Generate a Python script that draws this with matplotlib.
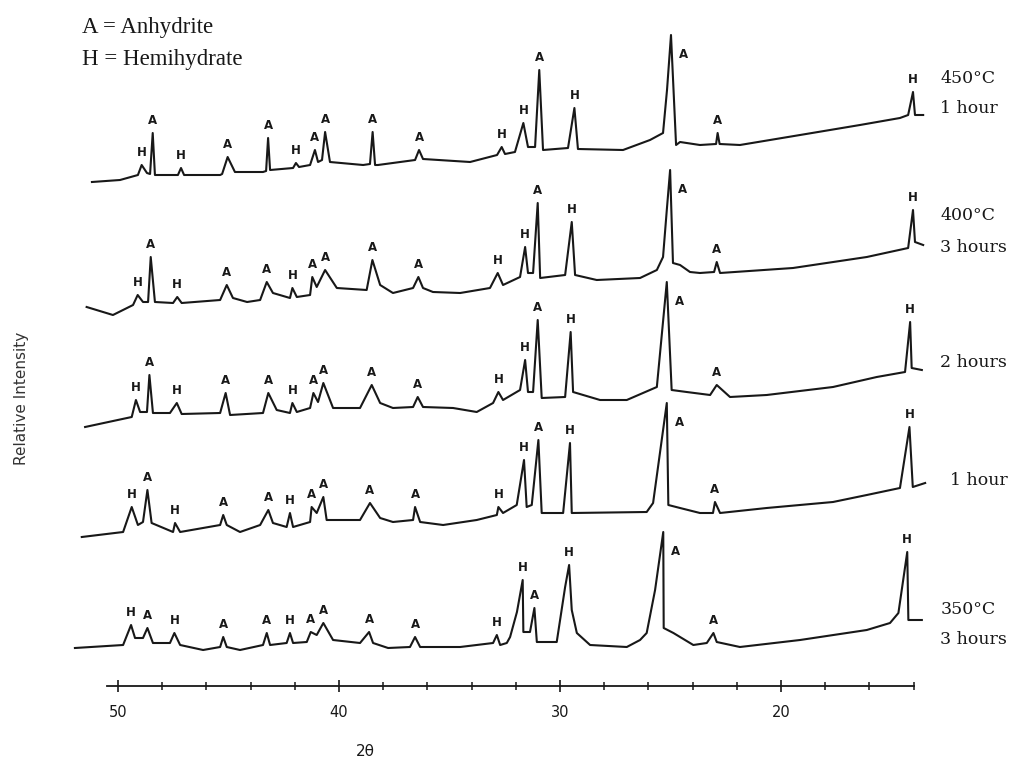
import numpy as np
import matplotlib.pyplot as plt

# (2theta, relative intensity) vertices of each diffraction trace
scan_450_1h = [(51.18, 3), (49.91, 5), (49.10, 10), (48.93, 20), (48.69, 12), (48.55, 11), (48.43, 52),
               (48.33, 10), (47.29, 10), (47.15, 17), (47.01, 10), (45.38, 10), (45.29, 11), (45.04, 28),
               (44.71, 13), (44.48, 13), (43.44, 13), (43.30, 14), (43.21, 47), (43.12, 15), (42.08, 17),
               (41.95, 22), (41.81, 18), (41.31, 20), (41.09, 35), (40.95, 23), (40.77, 25), (40.63, 53),
               (40.41, 23), (38.91, 20), (38.60, 21), (38.48, 53), (38.37, 20), (38.24, 20), (36.56, 25),
               (36.38, 35), (36.20, 26), (34.07, 23), (32.85, 30), (32.64, 38), (32.49, 31), (32.04, 33),
               (31.66, 62), (31.45, 38), (31.13, 38), (30.94, 115), (30.77, 35), (29.64, 37), (29.35, 77),
               (29.19, 36), (27.15, 35), (25.93, 45), (25.34, 52), (25.16, 95), (24.98, 150), (24.75, 40),
               (24.57, 43), (23.67, 40), (22.94, 41), (22.87, 52), (22.78, 41), (21.86, 40), (19.14, 50),
               (16.43, 60), (14.62, 67), (14.25, 70), (14.03, 93), (13.94, 70), (13.57, 70)]

scan_400_3h = [(51.42, 3), (50.23, -5), (49.32, 5), (49.11, 15), (48.87, 8), (48.64, 8), (48.52, 53),
               (48.33, 8), (47.51, 7), (47.32, 13), (47.12, 7), (45.38, 10), (45.08, 25), (44.80, 12),
               (44.16, 8), (43.57, 10), (43.27, 28), (42.99, 17), (42.22, 12), (42.11, 22), (41.91, 13),
               (41.31, 15), (41.21, 33), (41.01, 23), (40.63, 40), (40.10, 22), (38.75, 20), (38.49, 50),
               (38.14, 25), (37.56, 17), (36.65, 22), (36.41, 33), (36.20, 22), (35.75, 18), (34.52, 17),
               (33.17, 22), (32.82, 37), (32.58, 25), (31.81, 33), (31.58, 63), (31.45, 37), (31.22, 37),
               (31.01, 107), (30.90, 32), (29.77, 35), (29.47, 88), (29.32, 35), (28.34, 30), (26.38, 32),
               (25.62, 40), (25.34, 53), (25.17, 100), (25.02, 140), (24.89, 47), (24.57, 45), (24.12, 38),
               (23.67, 37), (23.03, 38), (22.91, 48), (22.76, 37), (19.46, 42), (16.12, 53), (14.25, 62),
               (14.03, 100), (13.94, 68), (13.57, 65)]

scan_400_2h = [(51.49, -7), (49.38, 3), (49.19, 20), (49.00, 8), (48.69, 8), (48.58, 45), (48.42, 7),
               (47.65, 7), (47.34, 17), (47.12, 6), (45.38, 7), (45.13, 27), (44.93, 5), (43.44, 7),
               (43.20, 27), (42.82, 10), (42.22, 7), (42.11, 17), (41.91, 8), (41.31, 12), (41.16, 27),
               (40.95, 18), (40.71, 37), (40.27, 12), (39.05, 12), (38.52, 35), (38.14, 17), (37.56, 12),
               (36.65, 13), (36.44, 23), (36.20, 13), (34.84, 12), (33.77, 8), (33.03, 17), (32.79, 28),
               (32.58, 20), (31.81, 30), (31.58, 60), (31.45, 28), (31.22, 28), (31.01, 100), (30.83, 22),
               (29.77, 23), (29.52, 88), (29.41, 28), (28.19, 20), (26.98, 20), (25.62, 33), (25.17, 138),
               (24.95, 30), (24.27, 28), (23.21, 25), (22.91, 35), (22.31, 23), (20.65, 25), (17.65, 33),
               (15.67, 43), (14.39, 48), (14.16, 98), (14.09, 52), (13.63, 50)]

scan_400_1h = [(51.64, -2), (49.77, 3), (49.38, 28), (49.10, 10), (48.87, 13), (48.67, 45), (48.48, 12),
               (47.51, 3), (47.42, 12), (47.19, 3), (45.38, 10), (45.24, 20), (45.08, 10), (44.48, 3),
               (43.57, 10), (43.20, 25), (42.99, 12), (42.37, 8), (42.22, 22), (42.08, 8), (41.31, 13),
               (41.24, 28), (41.01, 22), (40.71, 38), (40.56, 15), (39.05, 15), (38.60, 32), (38.14, 17),
               (37.56, 13), (36.65, 15), (36.56, 28), (36.33, 13), (35.29, 10), (33.77, 15), (32.86, 20),
               (32.79, 28), (32.58, 22), (31.96, 30), (31.63, 75), (31.51, 28), (31.28, 30), (30.98, 95),
               (30.83, 22), (29.86, 22), (29.55, 92), (29.47, 22), (26.08, 23), (25.79, 32), (25.17, 132),
               (25.10, 30), (24.57, 27), (23.67, 22), (23.08, 22), (22.99, 33), (22.76, 22), (20.65, 27),
               (17.65, 33), (16.12, 40), (14.62, 47), (14.19, 108), (14.04, 48), (13.48, 52)]

scan_350_3h = [(51.95, 2), (49.77, 5), (49.41, 25), (49.23, 12), (48.87, 12), (48.67, 22), (48.42, 7),
               (47.65, 7), (47.45, 17), (47.19, 5), (46.15, 0), (45.38, 3), (45.24, 13), (45.08, 3),
               (44.48, 0), (43.44, 5), (43.27, 17), (43.12, 5), (42.37, 7), (42.22, 17), (42.08, 7),
               (41.46, 8), (41.28, 18), (41.01, 15), (40.71, 27), (40.27, 10), (39.05, 7), (38.64, 18),
               (38.46, 7), (37.78, 2), (36.79, 3), (36.56, 13), (36.33, 3), (34.52, 3), (33.03, 7),
               (32.86, 15), (32.71, 5), (32.41, 7), (32.26, 13), (31.95, 38), (31.69, 70), (31.66, 18),
               (31.36, 18), (31.16, 42), (31.05, 8), (30.15, 8), (29.77, 63), (29.59, 85), (29.47, 40),
               (29.24, 17), (28.64, 5), (26.98, 3), (26.38, 10), (26.08, 17), (25.70, 60), (25.33, 118),
               (25.31, 22), (24.87, 17), (23.97, 5), (23.36, 7), (23.06, 17), (22.91, 8), (21.86, 3),
               (19.14, 10), (16.12, 20), (15.07, 27), (14.69, 37), (14.29, 98), (14.24, 30), (13.63, 30)]

# phase assignment of the marked reflections (2theta, phase letter)
peaks_450_1h = [(48.93, 'H'), (48.43, 'A'), (47.15, 'H'), (45.04, 'A'), (43.21, 'A'), (41.95, 'H'),
                (41.09, 'A'), (40.63, 'A'), (38.48, 'A'), (36.38, 'A'), (32.64, 'H'), (31.66, 'H'),
                (30.94, 'A'), (29.35, 'H'), (24.98, 'A'), (22.87, 'A'), (14.03, 'H')]
peaks_400_3h = [(49.11, 'H'), (48.52, 'A'), (47.32, 'H'), (45.08, 'A'), (43.27, 'A'), (42.11, 'H'),
                (41.21, 'A'), (40.63, 'A'), (38.49, 'A'), (36.41, 'A'), (32.82, 'H'), (31.58, 'H'),
                (31.01, 'A'), (29.47, 'H'), (25.02, 'A'), (22.91, 'A'), (14.03, 'H')]
peaks_400_2h = [(49.19, 'H'), (48.58, 'A'), (47.34, 'H'), (45.13, 'A'), (43.20, 'A'), (42.11, 'H'),
                (41.16, 'A'), (40.71, 'A'), (38.52, 'A'), (36.44, 'A'), (32.79, 'H'), (31.58, 'H'),
                (31.01, 'A'), (29.52, 'H'), (25.17, 'A'), (22.91, 'A'), (14.16, 'H')]
peaks_400_1h = [(49.38, 'H'), (48.67, 'A'), (47.42, 'H'), (45.24, 'A'), (43.20, 'A'), (42.22, 'H'),
                (41.24, 'A'), (40.71, 'A'), (38.60, 'A'), (36.56, 'A'), (32.79, 'H'), (31.63, 'H'),
                (30.98, 'A'), (29.55, 'H'), (25.17, 'A'), (22.99, 'A'), (14.19, 'H')]
peaks_350_3h = [(49.41, 'H'), (48.67, 'A'), (47.45, 'H'), (45.24, 'A'), (43.27, 'A'), (42.22, 'H'),
                (41.28, 'A'), (40.71, 'A'), (38.64, 'A'), (36.56, 'A'), (32.86, 'H'), (31.69, 'H'),
                (31.16, 'A'), (29.59, 'H'), (25.33, 'A'), (23.06, 'A'), (14.29, 'H')]

scans = [scan_350_3h, scan_400_1h, scan_400_2h, scan_400_3h, scan_450_1h]
peaks = [peaks_350_3h, peaks_400_1h, peaks_400_2h, peaks_400_3h, peaks_450_1h]
temps = ['350°C', '', '', '400°C', '450°C']
times = ['3 hours', '1 hour', '2 hours', '3 hours', '1 hour']

# vertical stacking of the patterns
offsets = [115, 230, 345, 455, 580]
temp_dy = [40, 0, 0, 95, 107]
time_dy = [10, 55, 58, 63, 77]

fig = plt.figure(figsize=(10.14, 7.65), dpi=100)
ax = fig.add_axes([0, 0, 1, 1])
ax.set_xlim(55.34, 9.46)
ax.set_ylim(0, 765)

ink = '#181818'
side_font = dict(fontsize=12.5, family='DejaVu Serif', color=ink, ha='left', va='center')
for scan, pk, off, tl, tdy, hl, hdy in zip(scans, peaks, offsets, temps, temp_dy, times, time_dy):
    tt, ii = np.array(scan, dtype=float).T
    ax.plot(tt, ii + off, color=ink, lw=1.5)
    for t0, lab in pk:
        near = np.abs(tt - t0) < 0.06
        top = ii[near].max() + off
        if lab == 'A' and 24.5 < t0 < 25.5:
            xy_off = (9, -14)
        else:
            xy_off = (0, 9)
        ax.annotate(lab, (t0, top), xytext=xy_off, textcoords='offset points',
                    ha='center', va='center', fontsize=8.5, fontweight='bold',
                    family='DejaVu Sans', color=ink)
    if tl:
        ax.text(12.8, off + tdy, tl, **side_font)
    ax.text(12.8 if tl or hl != '1 hour' else 12.35, off + hdy, hl, **side_font)

# 2theta scale drawn as a free-standing ruler under the stack
for s in ['left', 'right', 'top']:
    ax.spines[s].set_visible(False)
ax.spines['bottom'].set_position(('data', 79))
ax.spines['bottom'].set_bounds(50.5, 14.0)
ax.spines['bottom'].set_linewidth(1.3)
ax.spines['bottom'].set_color(ink)
ax.set_xticks([50, 40, 30, 20])
ax.set_xticks([t for t in range(14, 51, 2) if t % 10], minor=True)
ax.tick_params(axis='x', which='major', direction='inout', length=9, width=1.2,
               pad=9, labelsize=10.5, colors=ink)
ax.tick_params(axis='x', which='minor', direction='inout', length=6, width=1.1, colors=ink)
ax.set_yticks([])

ax.set_xlabel('2θ', fontsize=11, va='center', color=ink)
ax.xaxis.set_label_coords(365 / 1014, 1 - 752 / 765)
ax.set_ylabel('Relative Intensity', fontsize=11, va='center', color='#333333')
ax.yaxis.set_label_coords(22 / 1014, 1 - 398 / 765)

fig.text(82 / 1014, 1 - 27 / 765, 'A = Anhydrite', fontsize=16.5, family='Liberation Serif',
         va='center', color=ink)
fig.text(82 / 1014, 1 - 60 / 765, 'H = Hemihydrate', fontsize=16.5, family='Liberation Serif',
         va='center', color=ink)

fig.savefig('out.png', dpi=100)
